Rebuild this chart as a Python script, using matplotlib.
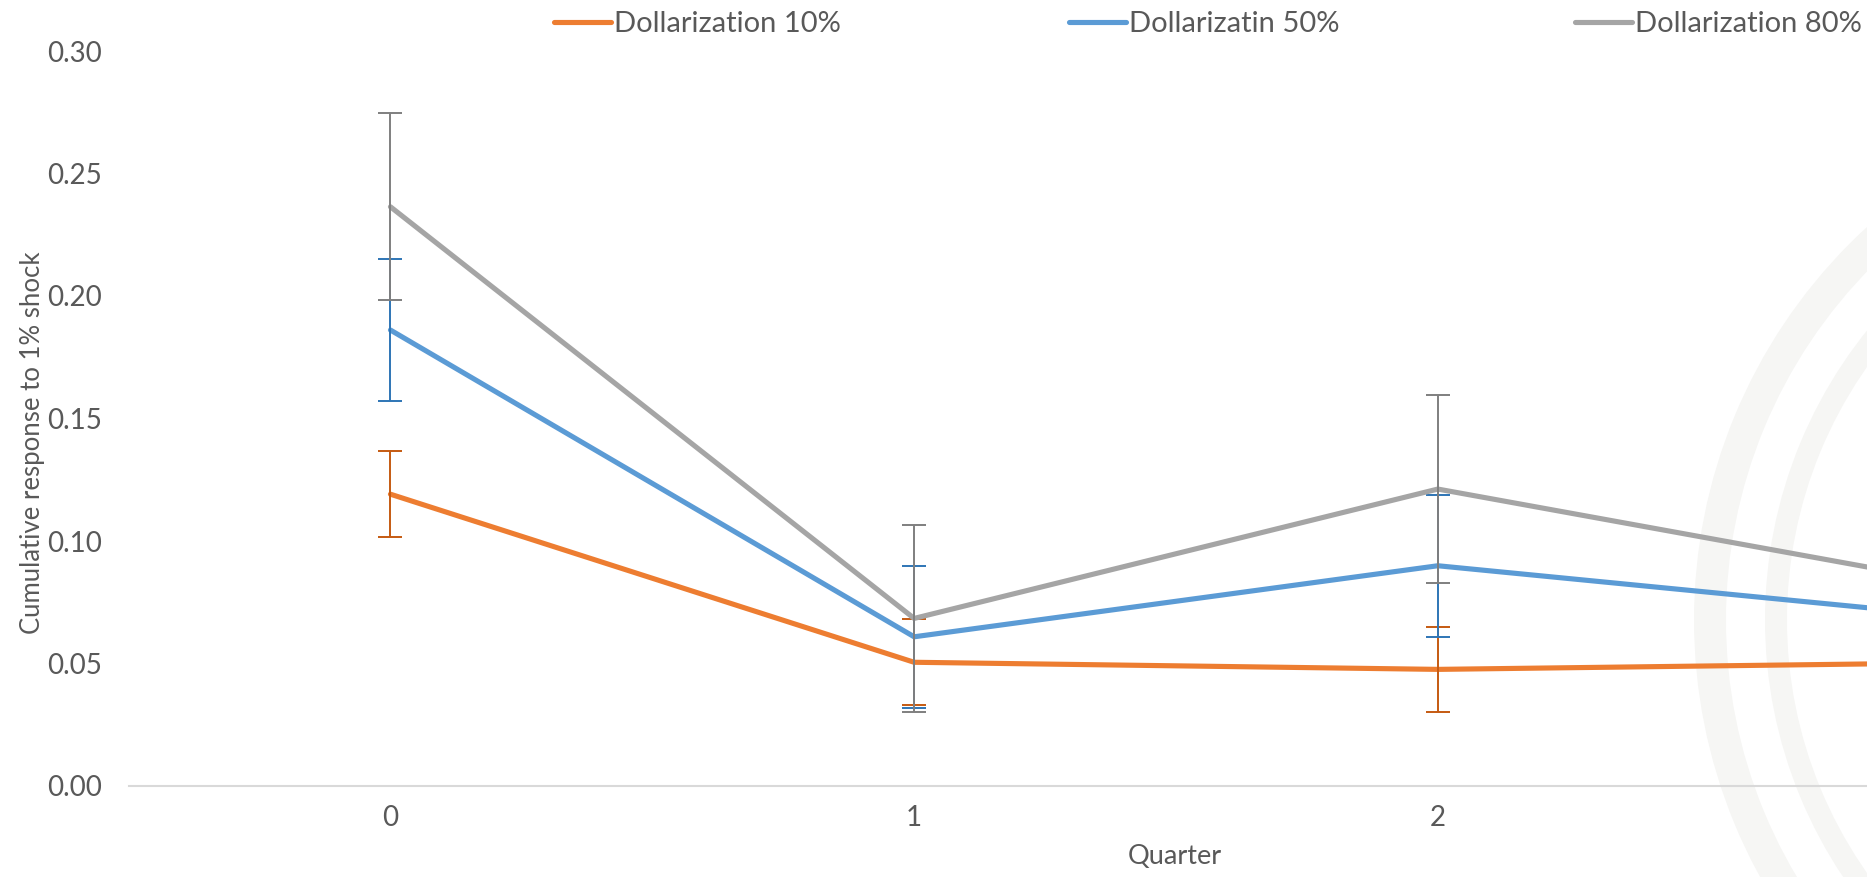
import matplotlib
matplotlib.use("Agg")
import matplotlib.pyplot as plt
from matplotlib.patches import Wedge
from matplotlib.transforms import IdentityTransform

# ---- data -------------------------------------------------------------
quarters = [0, 1, 2, 3]
tick_labels = ["0", "1", "2", "3"]

dollar_10 = [0.1191, 0.0505, 0.0476, 0.0503]
dollar_50 = [0.1861, 0.0609, 0.0899, 0.0690]
dollar_80 = [0.2364, 0.0684, 0.1212, 0.0824]

err_10 = [0.0175, 0.0175, 0.0175, 0.0175]
err_50 = [0.0290, 0.0290, 0.0290, 0.0290]
err_80 = [0.0382, 0.0382, 0.0382, 0.0382]

series_names = ["Dollarization 10%", "Dollarizatin 50%", "Dollarization 80%"]
y_ticks = [0.00, 0.05, 0.10, 0.15, 0.20, 0.25, 0.30]

# ---- styling ----------------------------------------------------------
W, H, DPI = 1867, 877, 100
FONT = "Lato"
TEXT_COLOR = "#595959"
line_colors = ["#ED7D31", "#5B9BD5", "#A5A5A5"]
err_colors = ["#C55A11", "#2E75B6", "#7F7F7F"]

plt.rcParams["font.family"] = [FONT, "DejaVu Sans"]

fig = plt.figure(figsize=(W / DPI, H / DPI), dpi=DPI)
fig.patch.set_facecolor("white")

# faint circular emblem in the background (right side)
cx, cy = 2227, H - 620
for r, w in [(533, 32), (462, 22)]:
    fig.patches.append(Wedge((cx, cy), r, 0, 360, width=w,
                             transform=IdentityTransform(),
                             facecolor="#f6f6f4", edgecolor="none", zorder=-5))

# plot area: 4 category bands, the last one extends past the right edge
left_px, bottom_px, band_px, plot_h = 128.6, H - 786, 523.7, 735
ax_w = 4 * band_px
ax = fig.add_axes([left_px / W, bottom_px / H, ax_w / W, plot_h / H])
ax.set_facecolor("none")
ax.set_zorder(1)

values = [dollar_10, dollar_50, dollar_80]
errors = [err_10, err_50, err_80]
handles = []
for i, (vals, errs) in enumerate(zip(values, errors)):
    base = 3 + 2 * i
    (ln,) = ax.plot(quarters, vals, color=line_colors[i], lw=3.7,
                    solid_capstyle="round", solid_joinstyle="round",
                    zorder=base, label=series_names[i])
    ax.errorbar(quarters, vals, yerr=errs, fmt="none", ecolor=err_colors[i],
                elinewidth=1.4, capsize=8.6, capthick=1.4, zorder=base + 1)
    handles.append(ln)

ax.set_xlim(-0.5, 3.5)
ax.set_ylim(0, 0.30)
ax.set_xticks(quarters)
ax.set_xticklabels(tick_labels)
ax.set_yticks(y_ticks)
ax.set_yticklabels([f"{v:.2f}" for v in y_ticks])
ax.tick_params(axis="both", length=0, labelsize=20, labelcolor=TEXT_COLOR)
ax.tick_params(axis="y", pad=19)
ax.tick_params(axis="x", pad=14)

for side in ["top", "right", "left"]:
    ax.spines[side].set_visible(False)
ax.spines["bottom"].set_color("#d9d9d9")
ax.spines["bottom"].set_linewidth(1.5)
ax.spines["bottom"].set_zorder(2)

ax.set_xlabel("Quarter", fontsize=19.5, color=TEXT_COLOR)
ax.xaxis.set_label_coords((1175 - left_px) / ax_w, (H - 857 - bottom_px) / plot_h)
ax.xaxis.label.set_va("center")
ax.set_ylabel("Cumulative response to 1% shock", fontsize=18.5, color=TEXT_COLOR)
ax.yaxis.set_label_coords((32 - left_px) / ax_w, (H - 443 - bottom_px) / plot_h)
ax.yaxis.label.set_va("center")

# legend entries along the top
legend_x = [554, 1069, 1575]
for x0, h in zip(legend_x, handles):
    fig.legend(handles=[h], labels=[h.get_label()], loc="center left",
               bbox_to_anchor=(x0 / W, 1 - 24 / H), frameon=False,
               borderpad=0, borderaxespad=0, handlelength=1.95,
               handletextpad=0.1, fontsize=21, labelcolor=TEXT_COLOR)

fig.savefig("out.png", dpi=DPI, facecolor="white")
